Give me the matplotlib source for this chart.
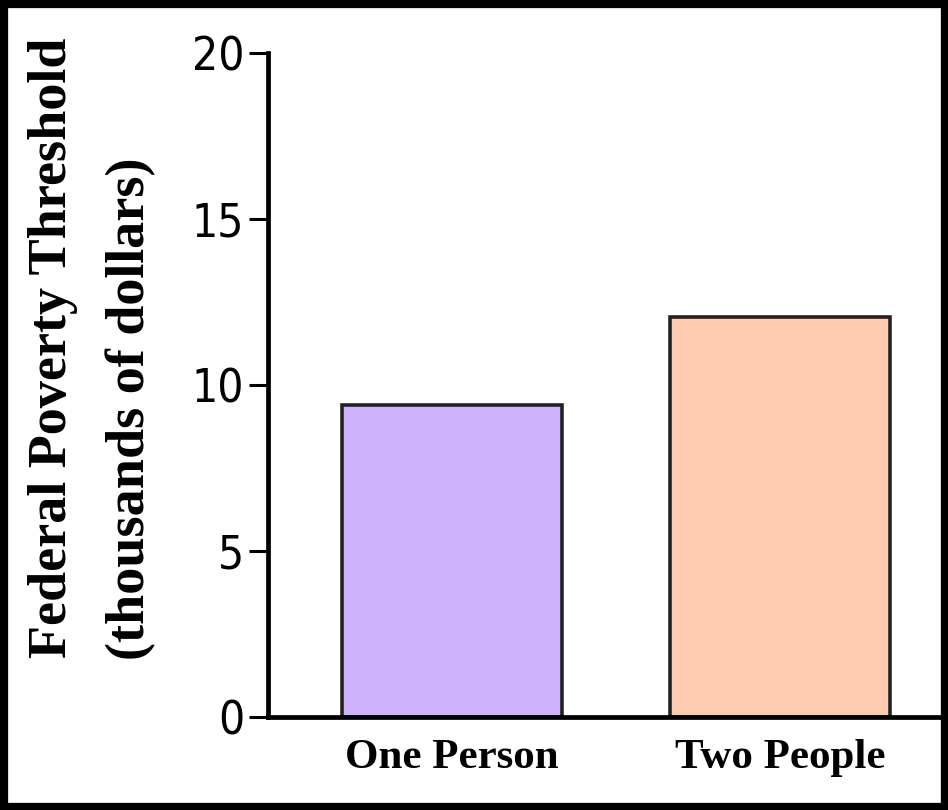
import matplotlib.pyplot as plt
from matplotlib.patches import Rectangle

# Poverty thresholds (thousands of dollars)
categories = ['One Person', 'Two People']
thresholds = [9.4, 12.05]
bar_colors = ['#CDB2FB', '#FECBB0']
y_ticks = [0, 5, 10, 15, 20]

serif = ['Liberation Serif', 'DejaVu Serif']

fig = plt.figure(figsize=(9.48, 8.1), dpi=100)
ax = fig.add_axes([268 / 948, 93 / 810, 672 / 948, 664 / 810])

ax.bar(range(len(categories)), thresholds, width=0.67, color=bar_colors,
       edgecolor='#222222', linewidth=2.6)

ax.set_xlim(-0.561, 1.488)
ax.set_ylim(0, 20)
ax.set_yticks(y_ticks)
ax.set_yticklabels([str(t) for t in y_ticks], family='DejaVu Sans',
                   fontstretch='condensed', fontsize=33, fontweight='light')
ax.set_xticks(range(len(categories)))
ax.set_xticklabels(categories, family=serif, fontweight='bold', fontsize=31)

ax.spines['top'].set_visible(False)
ax.spines['right'].set_visible(False)
for s in ['left', 'bottom']:
    ax.spines[s].set_linewidth(3.4)
ax.tick_params(axis='y', direction='out', length=14, width=2.2, pad=3)
ax.tick_params(axis='x', length=0, pad=16)

fig.text(0.056, 0.188, 'Federal Poverty Threshold', rotation=90, ha='center',
         va='bottom', family=serif, fontweight='bold', fontsize=39)
fig.text(0.138, 0.185, '(thousands of dollars)', rotation=90, ha='center',
         va='bottom', family=serif, fontweight='bold', fontsize=39)

fig.patches.append(Rectangle((0, 0), 1, 1, transform=fig.transFigure,
                             fill=False, edgecolor='black', linewidth=11))

fig.savefig('out.png', dpi=100)
